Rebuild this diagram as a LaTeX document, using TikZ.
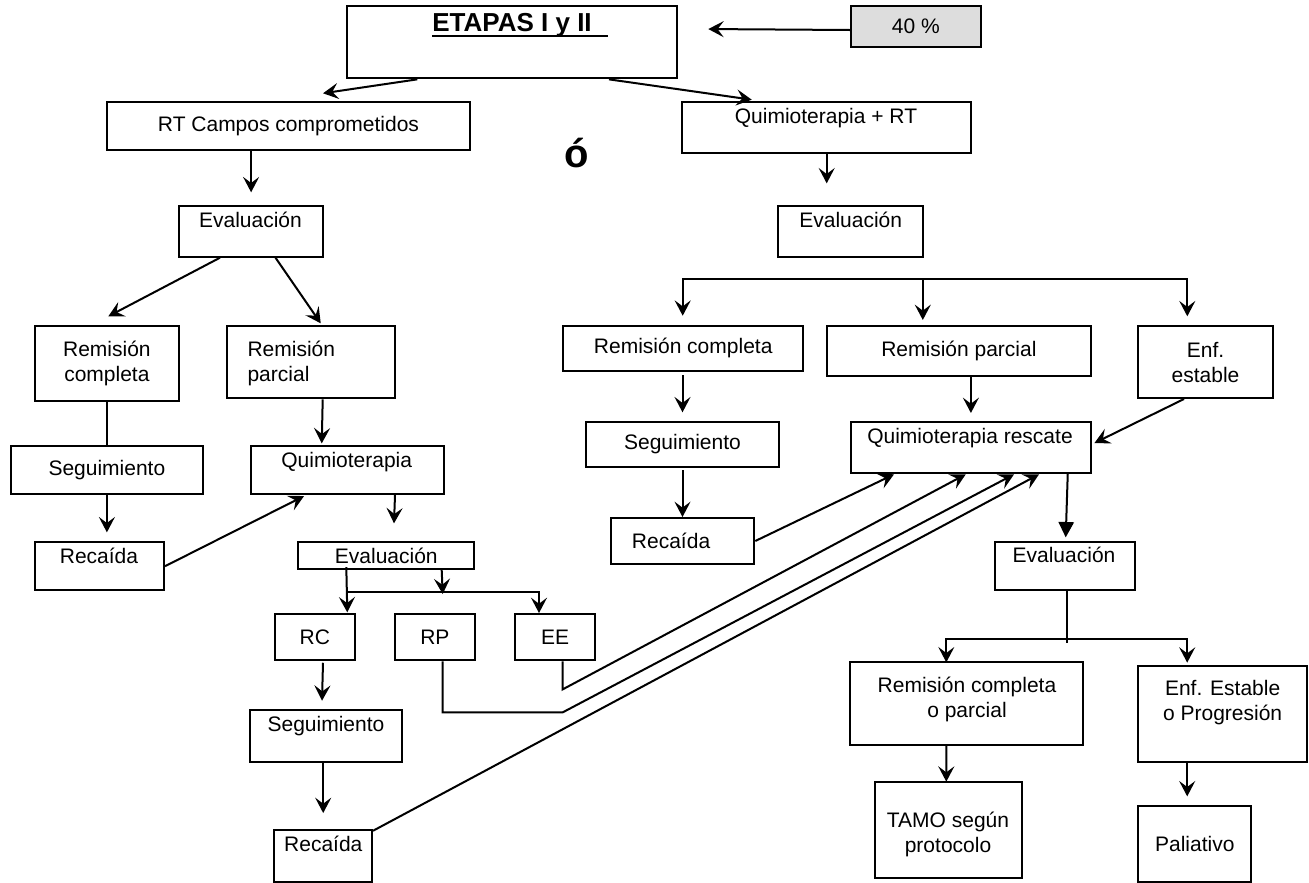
\documentclass[tikz,border=0pt]{standalone}
\usepackage{fontspec}
\setmainfont{Liberation Sans}
\usetikzlibrary{calc,arrows.meta}

\tikzset{
  bx/.style 2 args={draw, line width=1.5pt, inner sep=0pt, align=center,
    minimum width=#1*0.75pt, minimum height=#2*0.75pt,
    font=\fontsize{15.75}{18.75}\selectfont},
  txt/.style={inner sep=0pt, align=center, font=\fontsize{15.75}{18.75}\selectfont},
  ln/.style={line width=1.5pt},
  arr/.style={ln, -{Stealth[length=11.5pt,width=12pt,inset=4.5pt]}},
  tri/.style={ln, -{Triangle[length=11.5pt,width=11.5pt]}}
}

\begin{document}
\begin{tikzpicture}[x=0.75pt,y=0.75pt,yscale=-1,xscale=1]
\useasboundingbox (0,0) rectangle (1309,882);

%Shape: Rectangle (top)
\node[bx={330.6}{72.3}] (etapas) at (512,42.2) {};
\node[bx={130.3}{40.7}, fill={rgb, 255:red, 221; green, 221; blue, 221 }] (pct) at (915.9,26.3) {40 \%};
% Text Node
\node[txt, font=\bfseries\fontsize{19.5}{23}\selectfont, anchor=base] (etapas-t) at (512,31.7) {ETAPAS I y II};
\draw[line width=2pt] ($(etapas-t.base west)+(0,4.3)$) -- ($(etapas-t.base east)+(15.7,4.3)$);
% Text Node
\node[inner sep=0pt, font=\bfseries\fontsize{30}{36}\selectfont, anchor=base] (o) at (577,167.5) {ó};

%Shape: Rectangle (left branch)
\node[bx={363}{48}] (rt) at (288.5,125.7) {RT Campos comprometidos};
\node[bx={144.2}{51}] (ev1) at (251.1,231.2) {};
\node[txt, anchor=base] (ev1-t) at (250.5,227.7) {Evaluación};
\node[bx={144.3}{74.7}] (rcL) at (106.9,363.4) {Remisión\\completa};
\node[bx={168.3}{72.3}] (rpL) at (310.9,362.2) {};
\node[txt, anchor=west, align=left] (rpL-t) at (247.3,363.7) {Remisión\\parcial};
\node[bx={192.3}{48.3}] (segL) at (106.9,469.9) {Seguimiento};
\node[bx={129.3}{48.3}] (recL) at (99.4,566.2) {};
\node[txt, anchor=base] (recL-t) at (99,563.5) {Recaída};
\node[bx={193.3}{48.3}] (qL) at (347.4,469.9) {};
\node[txt, anchor=base] (qL-t) at (346.7,467.8) {Quimioterapia};
\node[bx={176}{26.7}] (ev2) at (386.3,555.7) {Evaluación};
\node[bx={80.3}{46.3}] (rc) at (314.9,637.2) {RC};
\node[bx={80.3}{46.3}] (rp) at (434.9,637.2) {RP};
\node[bx={80.3}{46.3}] (ee) at (555,637.2) {EE};
\node[bx={152}{51.7}] (seg2) at (326.3,735.9) {};
\node[txt, anchor=base] (seg2-t) at (326,731.5) {Seguimiento};
\node[bx={97.7}{51.7}] (rec2) at (323.2,855.9) {};
\node[txt, anchor=base] (rec2-t) at (323.3,851.5) {Recaída};

%Shape: Rectangle (right branch)
\node[bx={288.7}{51.6}] (qrt) at (826.7,127.5) {};
\node[txt, anchor=base] (qrt-t) at (826,123.5) {Quimioterapia + RT};
\node[bx={145}{51.3}] (ev3) at (850.8,231.4) {};
\node[txt, anchor=base] (ev3-t) at (850.7,227.7) {Evaluación};
\node[bx={240.3}{44.7}] (rcR) at (683.2,348.4) {Remisión completa};
\node[bx={264.3}{50}] (rpR) at (958.9,351) {Remisión parcial};
\node[bx={134.4}{72}] (enfR) at (1205.5,362) {Enf.\\estable};
\node[bx={193}{44.4}] (segR) at (682.5,444.5) {Seguimiento};
\node[bx={143.6}{46}] (recR) at (682.5,541) {};
\node[txt, anchor=base west] (recR-t) at (631.7,548) {Recaída};
\node[bx={240.3}{50.4}] (qres) at (970.9,447.5) {};
\node[txt, anchor=base] (qres-t) at (970,443.5) {Quimioterapia rescate};
\node[bx={140}{48.3}] (ev4) at (1064.5,565.9) {};
\node[txt, anchor=base] (ev4-t) at (1064,562.7) {Evaluación};
\node[bx={232.8}{83.3}] (rcp) at (966.6,703.4) {};
\node[txt] (rcp-t) at (967,699) {Remisión completa\\o parcial};
\node[bx={168.7}{95.7}] (enfp) at (1222.7,713.9) {};
\node[txt] (enfp-t) at (1222.6,702.5) {Enf. Estable\\o Progresión};
\node[bx={147}{96.6}] (tamo) at (948.4,830) {};
\node[txt] (tamo-t) at (948,834.5) {TAMO según\\protocolo};
\node[bx={113}{75.7}] (pal) at (1194.8,843.9) {Paliativo};

%Straight Lines (top)
\draw[arr] ($(pct.west)+(0,3.7)$) -- ($(etapas.north east)+(30,24)$);
\draw[arr] ($(etapas.south west)+(71.6,0)$) -- ($(rt.north west)+(217,-7.4)$);
\draw[arr] ($(etapas.south west)+(263.3,0)$) -- ($(qrt.north west)+(70.4,-1)$);

%Straight Lines (left branch)
\draw[arr] (rt.south -| ev1.north) -- ($(ev1.north)+(0,-12.4)$);
\draw[arr] ($(ev1.south west)+(42,0)$) -- ($(rcL.north)+(1.4,-8.7)$);
\draw[arr] ($(ev1.south west)+(97.5,0)$) -- ($(rpL.north west)+(95,-1.7)$);
\draw[ln] (rcL.south) -- (segL.north);
\draw[arr] (segL.south) -- ($(segL.south |- recL.north)+(0,-8.7)$);
\draw[arr] (recL.east) -- ($(qL.south west)+(54.3,1)$);
\draw[arr] ($(rpL.south)+(11.8,0)$) -- ($(qL.north west)+(72,-1.4)$);
\draw[arr] ($(qL.south)+(47.6,0)$) -- ($(ev2.north west)+(96.7,-18)$);
\coordinate (jE) at ($(ev2.south west)+(49,21.7)$);
\draw[arr] ($(ev2.south west)+(49,-3)$) -- ($(rc.north)+(32.4,-0.7)$);
\draw[arr] (jE) -| ($(ee.north)+(-16,0)$);
\draw[arr] ($(ev2.south west)+(144.4,0)$) -- ($(rp.north)+(7.8,-19)$);
\draw[arr] ($(rc.south)+(8.1,1.4)$) -- ($(seg2.north west)+(72.7,-8.3)$);
\draw[arr] (seg2.south -| rec2.north) -- ($(rec2.north)+(0,-16)$);

%Straight Lines (back to rescue chemo)
\draw[arr] ($(rp.south)+(7.8,0)$) |- ($(ee.south)+(7.7,51)$) -- ($(qres.south west)+(164.3,0.6)$);
\draw[arr] ($(ee.south)+(7.7,0)$) -- ($(ee.south)+(7.7,28)$) -- ($(qres.south west)+(116,0.6)$);
\draw[arr] ($(rec2.north east)+(0,1.7)$) -- ($(qres.south west)+(189.3,0.6)$);
\draw[arr] (recR.east) -- ($(qres.south west)+(44.3,0.6)$);

%Straight Lines (right branch)
\draw[arr] (qrt.south) -- ($(qrt.south |- ev3.north)+(0,-21.4)$);
\coordinate (jR) at ($(ev3.south)+(72,20.7)$);
\draw[arr] (jR) -| ($(rcR.north)+(-0.5,-9.3)$);
\draw[arr] (jR) -- ($(jR |- rpR.north)+(0,-5)$);
\draw[arr] (jR) -| ($(enfR.north)+(-18.2,-8.7)$);
\draw[arr] ($(segR.north |- rcR.south)+(0,3.3)$) -- ($(segR.north)+(0,-9)$);
\draw[arr] ($(segR.south)+(0,2.6)$) -- (recR.north);
\draw[arr] (qres.north |- rpR.south) -- ($(qres.north)+(0,-8.3)$);
\draw[arr] ($(enfR.south west)+(46.7,0)$) -- ($(qres.north east)+(2.4,21.7)$);
\draw[tri] ($(qres.south east)+(-24.3,0)$) -- ($(ev4.north west)+(72.2,-3.4)$);
\coordinate (jB) at ($(ev4.south)+(2.3,48.3)$);
\draw[ln] ($(ev4.south)+(2.3,0)$) -- ($(jB)+(0,3.4)$);
\draw[arr] (jB) -| ($(rcp.north)+(-20.3,1.6)$);
\draw[arr] (jB) -| ($(enfp.north)+(-35.5,-2.4)$);
\draw[arr] ($(rcp.south)+(-20.3,0)$) -- ($(tamo.north)+(-2.1,1)$);
\draw[arr] ($(enfp.south)+(-35.5,0)$) -- ($(pal.north)+(-7.6,-8.7)$);

\end{tikzpicture}
\end{document}
